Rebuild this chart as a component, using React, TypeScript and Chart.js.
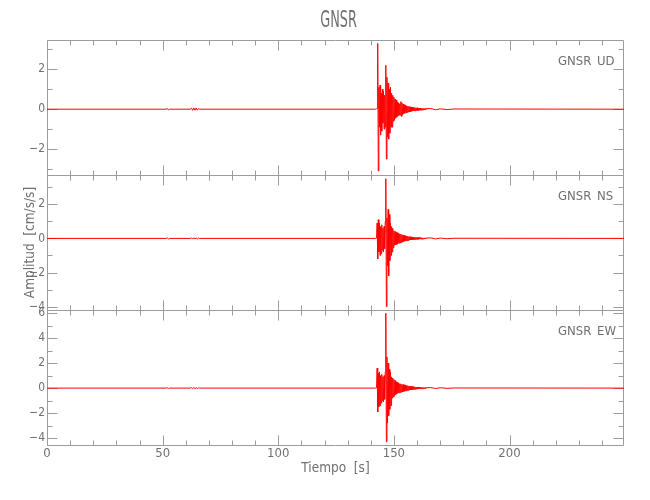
import React, { useEffect, useRef } from 'react';
import { Chart, registerables } from 'chart.js';

Chart.register(...registerables);

// ---------------- data ----------------
const STATION = 'GNSR';
const COMPONENTS = ['UD', 'NS', 'EW'];
const X_TITLE = 'Tiempo  [s]';
const Y_TITLE = 'Amplitud  [cm/s/s]';

const X_MIN = 0;
const X_MAX = 249.5;
const X_TICKS = [0, 50, 100, 150, 200];
const X_MINOR_STEP = 10;

const UD_RANGE = [-3.3, 3.47];
const NS_RANGE = [-4.2, 3.72];
const EW_RANGE = [-4.56, 6.26];
const UD_TICKS = [-2, 0, 2];
const NS_TICKS = [-4, -2, 0, 2];
const EW_TICKS = [-4, -2, 0, 2, 4, 6];
const Y_MINOR_STEP = 1;

// quiet part before the event (s) and amplitudes
const QUIET_TIMES = [0, 51.5, 52, 52.5, 53, 62, 62.5, 63, 63.5, 64, 64.5, 65, 65.5, 66, 142];
const UD_QUIET = [0, 0, 0.04, -0.04, 0, 0, 0.05, -0.06, 0.06, -0.05, 0.06, -0.05, 0.03, 0, 0];
const NS_QUIET = [0, 0, 0.03, -0.03, 0, 0, 0.03, -0.04, 0.04, -0.03, 0.03, -0.03, 0.02, 0, 0];
const EW_QUIET = [0, 0, 0.03, -0.03, 0, 0, 0.04, -0.04, 0.04, -0.04, 0.03, -0.03, 0.02, 0, 0];

// strong-motion part, sampled every EVENT_STEP seconds from EVENT_START
const EVENT_START = 142.5;
const EVENT_STEP = 0.25;
const UD_EVENT = [
  0.02, 0.05, 3.3, -3.1, 1.1, -0.9, 1.2, -1.3, 0.8, -1.1,
  1.0, -0.7, 0.9, -1.0, 0.7, -0.9, 2.2, -2.5, 1.6, -1.4,
  1.3, -1.5, 1.0, -1.2, 1.1, -0.9, 0.8, -0.9, 0.7, -0.6,
  0.6, -0.55, 0.5, -0.45, 0.45, -0.4, 0.35, -0.33, 0.3, -0.3,
  0.28, -0.3, 0.38, -0.36, 0.32, -0.3, 0.25, -0.22, 0.22, -0.2,
  0.2, -0.18, 0.17, -0.16, 0.15, -0.14, 0.14, -0.13, 0.12, -0.12,
  0.11, -0.1, 0.1, -0.09, 0.09, -0.08, 0.08, -0.08, 0.07, -0.07,
  0.07, -0.06, 0.06, -0.06, 0.05, -0.05, 0.05, -0.05, 0.04, -0.04,
  0.04, -0.04, 0.04, -0.03, 0.03, -0.03, 0.03,
];
const NS_EVENT = [
  0.02, 0.9, -1.2, 1.1, -0.8, 0.9, -1.0, 0.7, -0.9, 0.8,
  -0.7, 0.6, -0.8, 0.7, -0.6, 1.0, 3.5, -4.0, 1.2, -1.6,
  1.7, -2.2, 1.4, -1.3, 0.9, -1.0, 0.7, -0.8, 0.6, -0.55,
  0.45, -0.4, 0.4, -0.38, 0.35, -0.35, 0.33, -0.3, 0.3, -0.28,
  0.27, -0.26, 0.25, -0.24, 0.22, -0.2, 0.2, -0.18, 0.17, -0.16,
  0.15, -0.14, 0.14, -0.13, 0.12, -0.12, 0.11, -0.1, 0.1, -0.09,
  0.09, -0.08, 0.08, -0.08, 0.07, -0.07, 0.07, -0.06, 0.06, -0.06,
  0.05, -0.05, 0.05, -0.05, 0.05, -0.04, 0.04, -0.04, 0.04, -0.04,
  0.03, -0.03, 0.03, -0.03, 0.03, -0.03, 0.02,
];
const EW_EVENT = [
  0.02, 1.6, -1.9, 1.2, -1.5, 1.3, -1.4, 1.0, -1.2, 1.1,
  -1.0, 0.9, -1.1, 1.0, -0.9, 1.3, 6.0, -4.3, 2.5, -2.8,
  2.0, -2.2, 1.5, -1.7, 1.3, -1.4, 0.9, -0.8, 0.8, -0.7,
  0.7, -0.65, 0.6, -0.55, 0.5, -0.45, 0.45, -0.4, 0.4, -0.38,
  0.36, -0.35, 0.34, -0.32, 0.3, -0.3, 0.28, -0.27, 0.26, -0.25,
  0.24, -0.22, 0.21, -0.2, 0.19, -0.18, 0.17, -0.16, 0.15, -0.14,
  0.14, -0.13, 0.12, -0.12, 0.11, -0.1, 0.1, -0.09, 0.09, -0.08,
  0.08, -0.08, 0.07, -0.07, 0.06, -0.06, 0.06, -0.05, 0.05, -0.05,
  0.05, -0.04, 0.04, -0.04, 0.04, -0.03, 0.03,
];

// coda tail
const TAIL_TIMES = [166, 168, 170, 173, 176, 249.5];
const UD_TAIL = [0.03, -0.03, 0.02, -0.02, 0.01, 0];
const NS_TAIL = [0.03, -0.03, 0.02, -0.02, 0.01, 0];
const EW_TAIL = [0.04, -0.03, 0.03, -0.02, 0.01, 0];

// ---------------- styles ----------------
const FONT = "'Liberation Sans Narrow', 'DejaVu Sans Condensed', 'Roboto Condensed', sans-serif";
const TEXT_COLOR = '#707070';
const AXIS_COLOR = '#9c9c9c';
const TRACE_COLOR = '#ff0000';

function buildTrace(quiet: number[], event: number[], tail: number[]) {
  const pts: { x: number; y: number }[] = [];
  QUIET_TIMES.forEach((t, i) => pts.push({ x: t, y: quiet[i] }));
  event.forEach((v, i) => pts.push({ x: EVENT_START + i * EVENT_STEP, y: v }));
  TAIL_TIMES.forEach((t, i) => pts.push({ x: t, y: tail[i] }));
  return pts;
}

const PANELS = [
  { id: 'yUD', comp: COMPONENTS[0], range: UD_RANGE, ticks: UD_TICKS, data: buildTrace(UD_QUIET, UD_EVENT, UD_TAIL) },
  { id: 'yNS', comp: COMPONENTS[1], range: NS_RANGE, ticks: NS_TICKS, data: buildTrace(NS_QUIET, NS_EVENT, NS_TAIL) },
  { id: 'yEW', comp: COMPONENTS[2], range: EW_RANGE, ticks: EW_TICKS, data: buildTrace(EW_QUIET, EW_EVENT, EW_TAIL) },
];

const fmt = (v: number) => (v < 0 ? '\u2212' + String(-v) : String(v));

const framePlugin = {
  id: 'idlFrame',
  beforeDatasetsDraw(chart: any) {
    const { ctx, chartArea, scales } = chart;
    const xs = scales.x;
    const left = Math.round(chartArea.left) + 0.5;
    const right = Math.round(chartArea.right) - 0.5;
    ctx.save();
    ctx.strokeStyle = AXIS_COLOR;
    ctx.lineWidth = 1;
    PANELS.forEach((p) => {
      const ys = scales[p.id];
      const top = Math.round(ys.top) + 0.5;
      const bottom = Math.round(ys.bottom) + 0.5;
      ctx.beginPath();
      ctx.moveTo(left, top);
      ctx.lineTo(right, top);
      ctx.lineTo(right, bottom);
      ctx.lineTo(left, bottom);
      ctx.closePath();
      for (let t = X_MIN; t <= X_MAX; t += X_MINOR_STEP) {
        const px = Math.round(xs.getPixelForValue(t)) + 0.5;
        const len = X_TICKS.includes(t) ? 10 : 5;
        ctx.moveTo(px, top);
        ctx.lineTo(px, top + len);
        ctx.moveTo(px, bottom);
        ctx.lineTo(px, bottom - len);
      }
      for (let v = Math.ceil(p.range[0]); v <= p.range[1]; v += Y_MINOR_STEP) {
        const py = Math.round(ys.getPixelForValue(v)) + 0.5;
        const len = p.ticks.includes(v) ? 10 : 5;
        ctx.moveTo(left, py);
        ctx.lineTo(left + len, py);
        ctx.moveTo(right, py);
        ctx.lineTo(right - len, py);
      }
      ctx.stroke();
    });
    ctx.restore();
  },
  afterDatasetsDraw(chart: any) {
    const { ctx, chartArea, scales } = chart;
    ctx.save();
    ctx.fillStyle = TEXT_COLOR;
    ctx.textBaseline = 'middle';
    ctx.textAlign = 'left';
    ctx.font = `13px ${FONT}`;
    PANELS.forEach((p) => {
      const ys = scales[p.id];
      const y = ys.top + 22;
      ctx.fillText(STATION, chartArea.right - 66, y);
      ctx.fillText(p.comp, chartArea.right - 27, y);
    });
    ctx.textAlign = 'center';
    ctx.font = `23px ${FONT}`;
    ctx.translate((chartArea.left + chartArea.right) / 2 + 3, 21);
    ctx.scale(0.62, 1);
    ctx.fillText(STATION, 0, 0);
    ctx.restore();
  },
};

export default function App() {
  const ref = useRef<HTMLCanvasElement>(null);
  useEffect(() => {
    const scales: any = {
      x: {
        type: 'linear',
        min: X_MIN,
        max: X_MAX,
        afterBuildTicks: (axis: any) => {
          axis.ticks = X_TICKS.map((v) => ({ value: v }));
        },
        afterFit: (axis: any) => {
          axis.height = 55;
        },
        ticks: {
          color: TEXT_COLOR,
          font: { family: FONT, size: 13 },
          padding: 1,
          maxRotation: 0,
          autoSkip: false,
          callback: (v: any) => fmt(Number(v)),
        },
        grid: { display: false, drawTicks: false },
        border: { display: false },
        title: {
          display: true,
          text: X_TITLE,
          color: TEXT_COLOR,
          font: { family: FONT, size: 13.5 },
          padding: { top: 0, bottom: 23 },
        },
      },
    };
    // stacked left axes are laid out last-defined-on-top, so define bottom panel first
    [...PANELS].reverse().forEach((p) => {
      scales[p.id] = {
        type: 'linear',
        position: 'left',
        stack: 'panels',
        stackWeight: 1,
        min: p.range[0],
        max: p.range[1],
        afterBuildTicks: (axis: any) => {
          axis.ticks = p.ticks.map((v) => ({ value: v }));
        },
        afterFit: (axis: any) => {
          axis.width = 47;
        },
        ticks: {
          color: TEXT_COLOR,
          font: { family: FONT, size: 12 },
          padding: 2,
          autoSkip: false,
          callback: (v: any) => fmt(Number(v)),
        },
        grid: { display: false, drawTicks: false },
        border: { display: false },
        title: {
          display: p.id === 'yNS',
          text: Y_TITLE,
          color: TEXT_COLOR,
          font: { family: FONT, size: 13.5 },
          padding: { top: 22, bottom: 0 },
        },
      };
    });

    const chart = new Chart(ref.current as HTMLCanvasElement, {
      type: 'line',
      data: {
        datasets: PANELS.map((p) => ({
          label: p.comp,
          data: p.data,
          yAxisID: p.id,
          xAxisID: 'x',
          borderColor: TRACE_COLOR,
          borderWidth: 1,
          pointRadius: 0,
          tension: 0,
          fill: false,
        })),
      },
      options: {
        responsive: false,
        animation: false,
        events: [],
        layout: { padding: { top: 40, right: 26, left: 0, bottom: 0 } },
        plugins: {
          legend: { display: false },
          tooltip: { enabled: false },
          title: { display: false },
        },
        scales,
      },
      plugins: [framePlugin],
    } as any);
    return () => chart.destroy();
  }, []);

  return (
    <div style={{ position: 'absolute', left: 0, top: 0, width: 650, height: 500, background: '#fff' }}>
      <canvas ref={ref} width={650} height={500} style={{ width: 650, height: 500, display: 'block' }} />
    </div>
  );
}
